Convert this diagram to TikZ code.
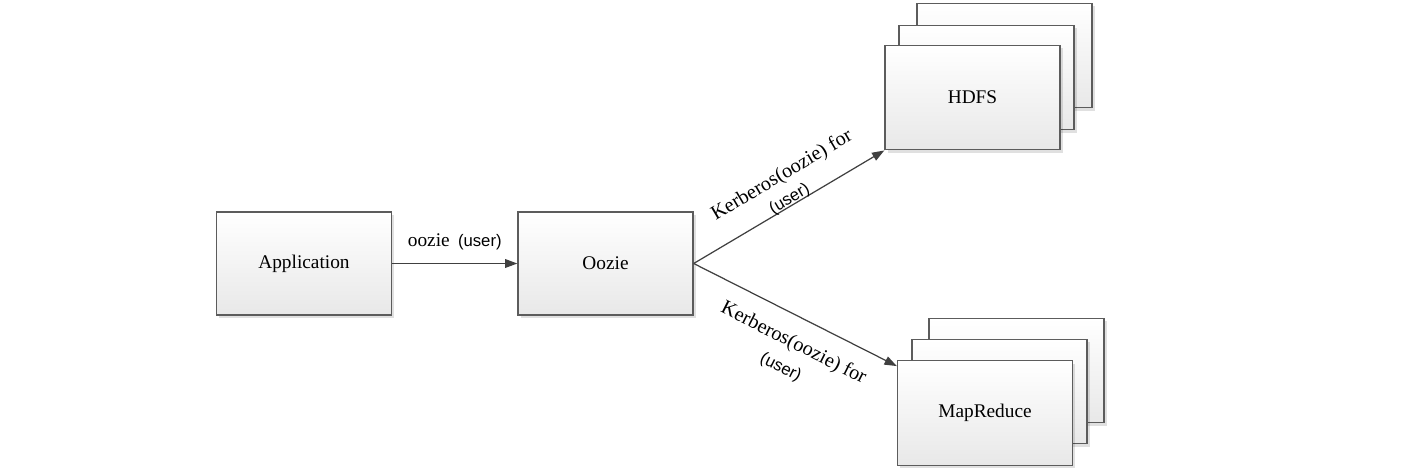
\documentclass[tikz,border=0pt]{standalone}
\RequirePackage{fontspec}
\setmainfont{Liberation Serif}
\setsansfont{Liberation Sans}
\RequirePackage{tikz}
\usetikzlibrary{calc}
\usetikzlibrary{arrows.meta}
\usetikzlibrary{shadows}

\definecolor{boxline}{HTML}{5C5C5C}
\definecolor{boxbottom}{HTML}{E8E8E8}
\definecolor{linkgray}{HTML}{404040}

\tikzset{
    box/.style={draw=boxline, line width=0.8pt, top color=white, bottom color=boxbottom,
        minimum width=3.5cm, minimum height=2.06cm, inner sep=0pt,
        font=\fontsize{11}{13}\selectfont,
        drop shadow={shadow xshift=1.6pt, shadow yshift=-1.6pt, fill=black, opacity=0.12}},
    stackbox/.style={box, minimum height=2.09cm},
    link/.style={draw=linkgray, line width=0.7pt, -{Triangle[length=7pt,width=5pt]}},
    tag/.style={font=\fontsize{11}{13}\selectfont, inner sep=0pt},
    slantag/.style={font=\fontsize{11.5}{13}\selectfont, inner sep=0pt},
    usertag/.style={font=\sffamily\fontsize{9.5}{11}\selectfont, inner sep=0pt},
}

\begin{document}
\begin{tikzpicture}[x=0.02cm,y=-0.02cm]
                    \useasboundingbox (0,0) rectangle (1415,471);

                    \node[box] (app) at (304,263.5) {Application};
                    \node[box] (oozie) at (605.5,263.5) {Oozie};

                    \node[stackbox] (hdfsback) at (1004.5,55.5) {};
                    \node[stackbox] (hdfsmid) at (986.5,77.5) {};
                    \node[stackbox] (hdfs) at (972.5,97.5) {HDFS};

                    \node[stackbox] (mrback) at (1016.5,370.5) {};
                    \node[stackbox] (mrmid) at (999.5,391.5) {};
                    \node[stackbox] (mr) at (985,413) {MapReduce};

                    \coordinate (mrin) at ($(mr.north west)+(0,6)$);

                    \draw[link] (app.east) -- (oozie.west)
                        node[tag, midway, yshift=0.44cm] (submit) {oozie\hspace{2pt} {\sffamily\fontsize{9.5}{11}\selectfont(user)}};

                    \draw[link] (oozie.east) -- (hdfs.south west)
                        node[slantag, sloped, pos=0.545, yshift=0.61cm] (krbhdfs) {Kerberos(oozie) for}
                        node[usertag, sloped, pos=0.52, yshift=0.12cm] (userhdfs) {(user)};

                    \draw[link] (oozie.east) -- (mrin)
                        node[slantag, sloped, pos=0.55, yshift=-0.53cm] (krbmr) {Kerberos(oozie) for}
                        node[usertag, sloped, pos=0.547, yshift=-1.08cm] (usermr) {(user)};
                \end{tikzpicture}
\end{document}
